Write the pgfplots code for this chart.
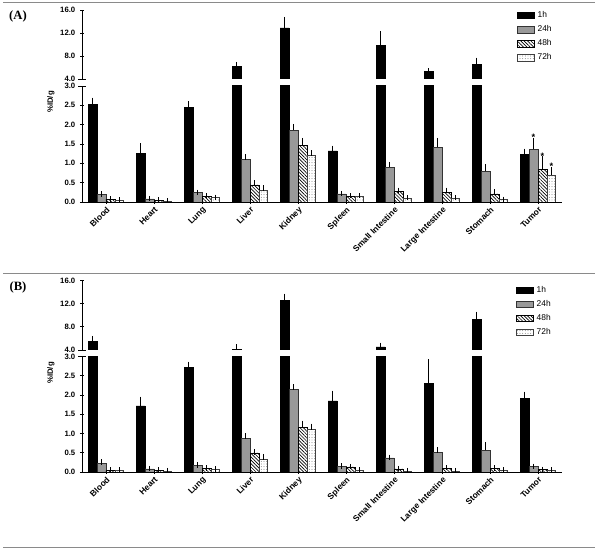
\documentclass[border=0pt]{standalone}
\usepackage{pgfplots}
\pgfplotsset{compat=1.18}
\usepackage{pgfplotstable}
\usepackage{fontspec}
\setmainfont{Liberation Sans}[BoldFont={Liberation Sans Bold}]
\newfontfamily\seriffont{Liberation Serif}[BoldFont={Liberation Serif Bold}]
\usetikzlibrary{patterns.meta}

\definecolor{barGray}{HTML}{999999}
\definecolor{ruleGray}{HTML}{8A8A8A}

% x  1h err  24h err  48h err  72h err
\pgfplotstableread{
x h1 e1 h24 e24 h48 e48 h72 e72
0 2.53 0.10 0.19 0.02 0.07 0.01 0.05 0.01
1 1.26 0.19 0.08 0.01 0.04 0.01 0.02 0.005
2 2.45 0.08 0.24 0.01 0.15 0.01 0.11 0.01
3 6.20 0.30 1.11 0.05 0.44 0.05 0.31 0.05
4 12.90 1.45 1.86 0.09 1.46 0.13 1.21 0.06
5 1.32 0.07 0.21 0.01 0.15 0.01 0.15 0.01
6 9.90 1.90 0.90 0.07 0.27 0.03 0.10 0.01
7 5.33 0.08 1.41 0.18 0.25 0.05 0.10 0.01
8 6.55 0.70 0.79 0.12 0.21 0.05 0.06 0.01
9 1.23 0.08 1.36 0.23 0.85 0.28 0.70 0.13
}\dataA

\pgfplotstableread{
x h1 e1 h24 e24 h48 e48 h72 e72
0 5.50 0.50 0.22 0.04 0.05 0.01 0.04 0.01
1 1.72 0.17 0.08 0.01 0.04 0.01 0.03 0.01
2 2.73 0.07 0.17 0.01 0.09 0.01 0.07 0.01
3 4.12 0.45 0.87 0.07 0.50 0.02 0.32 0.08
4 12.65 0.65 2.15 0.06 1.16 0.11 1.10 0.09
5 1.85 0.20 0.15 0.01 0.13 0.01 0.05 0.01
6 4.55 0.25 0.37 0.01 0.08 0.01 0.03 0.01
7 2.30 0.56 0.51 0.06 0.10 0.01 0.03 0.01
8 9.30 0.90 0.56 0.14 0.09 0.01 0.05 0.01
9 1.91 0.11 0.14 0.01 0.06 0.01 0.04 0.01
}\dataB

\pgfplotsset{
  common/.style={scale only axis, width=360pt, xmin=-0.5, xmax=9.5,
    tick style={black, line width=0.6pt}, major tick length=3pt, tick align=outside,
    yticklabel={\pgfmathprintnumber[fixed,fixed zerofill,precision=1,assume math mode=true]{\tick}},
    yticklabel style={font=\fontsize{5.8}{6}\selectfont\bfseries},
  },
  upper/.style={common, axis x line=none, axis y line=left, ymin=4, ymax=16, ytick={4,8,12,16},
    axis line style={-, line width=0.6pt, black},
    legend cell align=left,
    legend style={anchor=north west, draw=none, fill=none, inner sep=0pt, outer sep=0pt,
      font=\fontsize{6.3}{7}\selectfont, row sep=4.5pt,
      nodes={inner sep=0pt},
      /tikz/every odd column/.append style={column sep=2.4pt}},
  },
  lower/.style={common, axis x line=bottom, axis y line=left, ymin=0, ymax=3,
    axis line style={-, line width=0.6pt, black},
    ytick={0,0.5,1,1.5,2,2.5,3}, xtick={0,1,2,3,4,5,6,7,8,9},
    xticklabels={Blood,Heart,Lung,Liver,Kidney,Spleen,Small Intestine,Large Intestine,Stomach,Tumor},
    xticklabel style={rotate=45, anchor=north east, inner sep=1pt,
      font=\fontsize{6.3}{7}\selectfont\bfseries},
  },
  lg/.style={legend image code/.code={\draw[##1] (0pt,-2.4pt) rectangle (12.75pt,2.4pt);}},
  eb/.style={/pgfplots/error bars/y dir=plus, /pgfplots/error bars/y explicit,
    /pgfplots/error bars/error mark=-,
    /pgfplots/error bars/error bar style={black, line width=0.5pt, solid},
    /pgfplots/error bars/error mark options={black, line width=0.5pt, mark size=2pt, solid}},
  s1/.style={fill=black, draw=black, line width=0.4pt},
  s24/.style={fill=barGray, draw=black!80, line width=0.4pt},
  s48/.style={pattern={Lines[angle=-45,distance=1.8pt,line width=0.5pt]}, draw=black, line width=0.4pt},
  s72/.style={pattern={Dots[distance=2pt,radius=0.35pt]}, pattern color=black!60, draw=black!75, line width=0.4pt},
  bw/.style={ybar, bar width=6.66pt, bar shift=0pt},
}

% bars of a group sit side by side: offsets -0.2775, -0.0925, +0.0925, +0.2775 category units
\newcommand{\lowerbars}[1]{%
  \addplot[bw, s1, eb] table[x expr=\thisrow{x}-0.2775, y=h1, y error=e1] {#1};
  \addplot[bw, s24, eb] table[x expr=\thisrow{x}-0.0925, y=h24, y error=e24] {#1};
  \addplot[bw, s48, eb] table[x expr=\thisrow{x}+0.0925, y=h48, y error=e48] {#1};
  \addplot[bw, s72, eb] table[x expr=\thisrow{x}+0.2775, y=h72, y error=e72] {#1};
}
\newcommand{\upperbars}[1]{%
  \addplot[bw, s1, eb, forget plot, restrict y to domain=4:30] table[x expr=\thisrow{x}-0.2775, y=h1, y error=e1] {#1};
  \addlegendimage{s1, lg}
  \addlegendimage{s24, lg}
  \addlegendimage{s48, lg}
  \addlegendimage{s72, lg}
  \legend{1h,24h,48h,72h}
}

\begin{document}
\begin{tikzpicture}
\useasboundingbox (0,0) rectangle (450pt,414pt);

% rules
\draw[ruleGray, line width=0.75pt] (2.25pt,411.75pt) -- (446.25pt,411.75pt);
\draw[ruleGray, line width=0.75pt] (2.25pt,208.5pt) -- (446.25pt,208.5pt);
\draw[ruleGray, line width=0.75pt] (2.25pt,3pt) -- (446.25pt,3pt);

% ---------------- Panel A ----------------
\begin{axis}[upper, name=AU, at={(61.5pt,354.75pt)}, anchor=south west, height=51.75pt,
  legend style={at={(0.906,0.978)}}]
  \upperbars{\dataA}
\end{axis}
\begin{axis}[lower, name=AL, at={(61.5pt,262.5pt)}, anchor=south west, height=87pt]
  \lowerbars{\dataA}
  \node[font=\fontsize{7}{7}\selectfont\bfseries] at (axis cs:8.9075,1.68) {*};
  \node[font=\fontsize{7}{7}\selectfont\bfseries] at (axis cs:9.0925,1.18) {*};
  \node[font=\fontsize{7}{7}\selectfont\bfseries] at (axis cs:9.2775,0.92) {*};
\end{axis}
\draw[line width=0.6pt] (AU.south west) ++(-3pt,0) -- ++(6pt,0);
\draw[line width=0.6pt] (AL.north west) ++(-3pt,0) -- ++(6pt,0);
\node[font=\seriffont\bfseries\fontsize{9.5}{10}\selectfont] at (13.5pt,402pt) {(A)};
\node[rotate=90, font=\fontsize{5.8}{6}\selectfont\bfseries] at (38.25pt,337.5pt) {\%ID/g};

% ---------------- Panel B ----------------
\begin{axis}[upper, name=BU, at={(61.5pt,151.5pt)}, anchor=south west, height=52pt,
  legend style={at={(0.904,0.923)}}]
  \upperbars{\dataB}
\end{axis}
\begin{axis}[lower, name=BL, at={(61.5pt,60pt)}, anchor=south west, height=86.5pt]
  \lowerbars{\dataB}
\end{axis}
\draw[line width=0.6pt] (BU.south west) ++(-3pt,0) -- ++(6pt,0);
\draw[line width=0.6pt] (BL.north west) ++(-3pt,0) -- ++(6pt,0);
\node[font=\seriffont\bfseries\fontsize{9.5}{10}\selectfont] at (13.5pt,198.75pt) {(B)};
\node[rotate=90, font=\fontsize{5.8}{6}\selectfont\bfseries] at (38.25pt,134.25pt) {\%ID/g};

\end{tikzpicture}
\end{document}
